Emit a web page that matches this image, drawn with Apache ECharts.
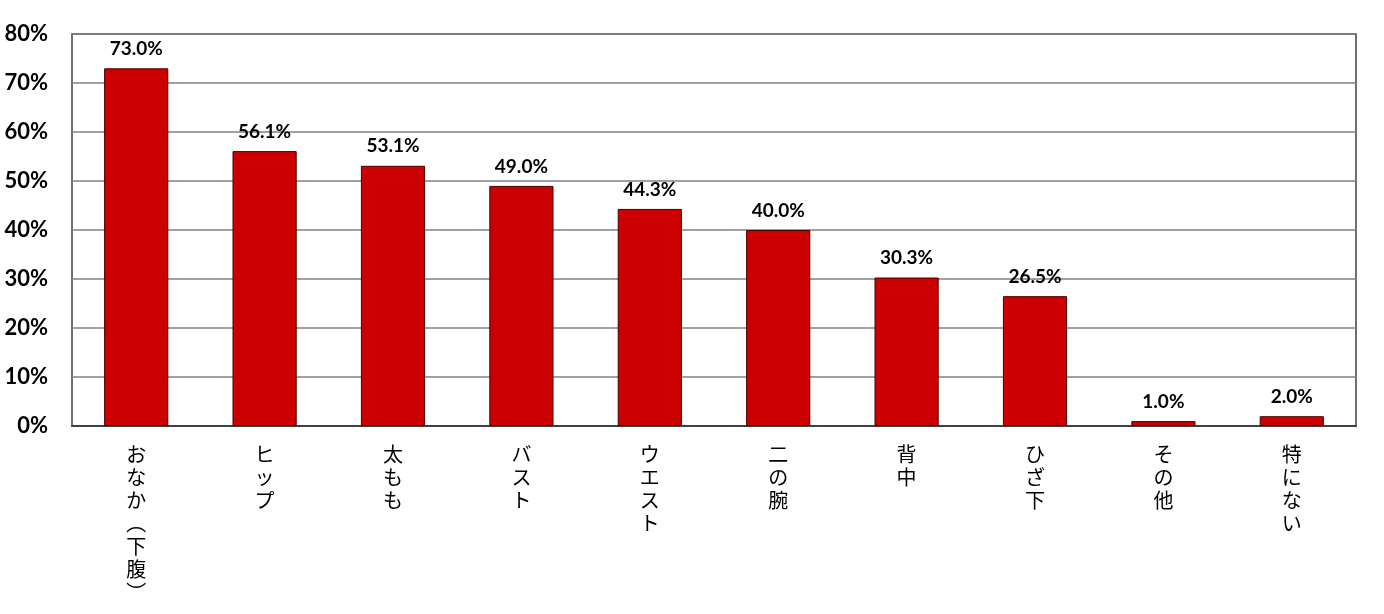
<!DOCTYPE html>
<html><head><meta charset="utf-8">
<script src="https://cdn.jsdelivr.net/npm/echarts@6/dist/echarts.min.js"></script>
<style>html,body{margin:0;padding:0;background:#fff}#c{width:1384px;height:614px}</style>
</head><body><div id="c"></div>
<script>
const categories = ['おなか︵下腹︶', 'ヒップ', '太もも', 'バスト', 'ウエスト', '二の腕', '背中', 'ひざ下', 'その他', '特にない'];
const values = [73.0, 56.1, 53.1, 49.0, 44.3, 40.0, 30.3, 26.5, 1.0, 2.0];

const chart = echarts.init(document.getElementById('c'));
chart.setOption({
  animation: false,
  grid: { left: 72, right: 28, top: 34, bottom: 188, show: true, borderColor: '#404040', borderWidth: 1.5 },
  xAxis: {
    type: 'category', data: categories,
    axisLine: { lineStyle: { color: '#404040', width: 2 } },
    axisTick: { show: false },
    axisLabel: {
      interval: 0, margin: 17, color: '#000', fontSize: 20, lineHeight: 23,
      fontFamily: 'Noto Sans CJK JP',
      formatter: v => Array.from(v).join('\n'),
      verticalAlign: 'top'
    }
  },
  yAxis: {
    type: 'value', min: 0, max: 80, interval: 10,
    axisLine: { show: false }, axisTick: { show: false },
    splitLine: { lineStyle: { color: '#808080', width: 1.5 } },
    axisLabel: { formatter: '{value}%', color: '#000', fontSize: 22, fontWeight: 'bold', fontFamily: 'Lato', margin: 24 }
  },
  series: [{
    type: 'bar', data: values, barWidth: '50%',
    itemStyle: { color: '#CC0000', borderColor: '#4a0000', borderWidth: 1 },
    label: { show: true, position: 'top', distance: 10, formatter: p => p.value.toFixed(1) + '%', color: '#000', fontSize: 19, fontWeight: 'bold', fontFamily: 'Lato' }
  }]
});
</script></body></html>
